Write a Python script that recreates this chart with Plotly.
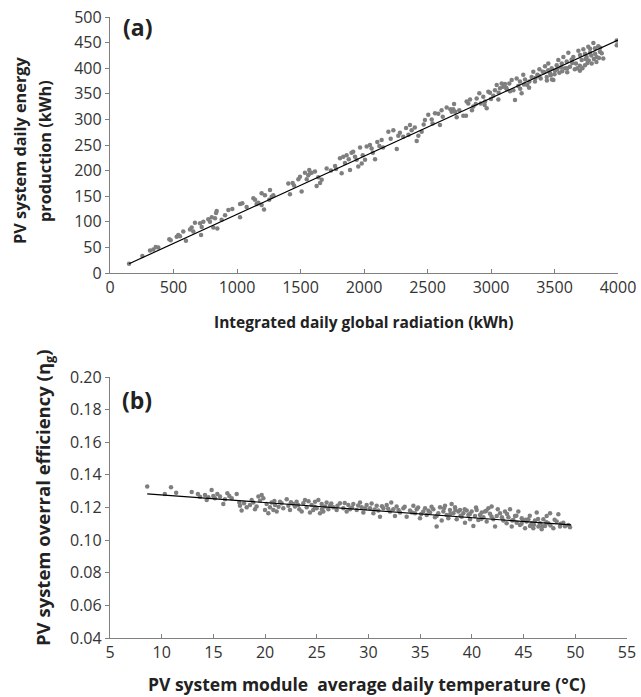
import plotly.graph_objects as go

# ---- Panel (a): integrated daily global radiation (kWh) vs daily energy (kWh)
rad_a = [150,255,315,341,360,380,467,478,525,538,551,577,598,630,643,656,669,709,722,735,717,774,787,801,827,835,840,814,845,879,906,932,963,1024,1024,1042,1076,1129,1142,1155,1168,1194,1213,1194,1220,1260,1273,1254,1286,1404,1417,1438,1449,1483,1496,1509,1535,1549,1569,1575,
         1561,1588,1614,1627,1640,1654,1667,1706,1772,1780,1811,1824,1837,1863,1890,1902,1915,1929,1942,1955,1969,1982,2008,2021,2047,2060,2087,2105,2121,2139,2192,2231,2258,2283,2309,2331,2362,2375,2415,2428,2454,2480,2506,2533,2559,2585,2598,2611,2651,2690,2709,2730,2782,2808,2821,
         1740,1850,1880,1990,2070,2150,2210,2270,2350,2400,2470,2540,2620,2680,2750,
         2703,2717,2803,2835,2861,2887,2908,2919,2939,2953,2966,2979,2992,3018,3031,3045,3058,3071,3084,3097,3110,3124,3144,3163,3176,3189,3202,3215,3228,3241,3254,3268,3286,3302,3320,3333,3346,3365,3381,3391,3407,3425,3439,3451,3465,3478,3491,3504,3517,3530,3538,3557,3570,3583,3596,3609,3622,3635,3648,3669,3688,3701,3714,3727,3740,3753,3766,3780,3793,3806,3819,3832,3845,3858,3872,3884,3990,3990,
         3420,3450,3470,3500,3520,3550,3560,3600,3640,3660,3700,3720,3745,3760,3790,3810,3830,3850,3380,3350,3300,3260,3230,3150,3120,3060,3000,2950,2880,2850,3700,3680,3770,3820,3860,3780,3740,3600,3480,3440]
energy_a = [18,33,44,46,51,50,66,64,71,74,72,81,63,85,89,81,98,97,90,100,74,105,100,109,107,117,121,89,87,104,113,123,125,109,135,136,129,146,143,135,137,133,124,156,152,162,149,143,152,175,154,176,171,183,188,159,196,183,201,195,
            191,196,198,170,187,176,182,204,209,203,224,195,227,230,201,235,237,227,221,208,245,214,221,247,250,243,222,256,248,260,276,279,242,274,266,283,289,279,258,268,276,299,309,300,312,311,289,318,323,315,330,304,307,335,331,
            200,215,222,230,235,245,262,268,270,284,290,292,305,320,318,
            320,315,307,339,325,341,351,331,344,335,322,354,352,346,357,367,339,361,370,364,369,359,370,377,357,338,380,365,374,351,387,378,367,374,383,393,374,387,398,380,393,404,383,409,390,400,377,395,406,416,391,409,422,400,413,430,403,417,422,409,434,426,416,437,406,422,442,430,409,449,439,422,443,432,429,419,454,445,
            392,396,386,388,398,402,394,400,410,398,405,400,418,410,425,418,412,420,385,381,362,368,360,355,362,352,340,328,330,318,395,400,415,428,440,438,428,392,378,376]
trend_a_x = [150, 4000]
trend_a_y = [18, 455]

# ---- Panel (b): module average daily temperature (°C) vs overall efficiency
temp_b = [8.6,10.3,10.9,11.4,12.9,13.5,13.7,
          14.19,14.35,14.51,14.83,14.99,15.15,15.38,15.64,15.96,16.12,16.35,16.54,16.77,17.25,17.51,17.57,17.73,17.96,18.22,18.54,18.70,18.86,19.02,19.18,19.35,19.51,19.67,19.83,19.99,20.15,20.31,20.47,20.63,20.80,20.96,21.12,21.44,21.60,21.76,22.09,22.25,22.41,22.73,22.89,23.05,23.31,23.54,23.70,23.86,24.02,24.34,24.50,24.66,24.83,24.99,25.15,25.31,25.47,25.63,25.79,25.95,26.12,26.28,26.60,26.92,27.24,27.57,27.89,28.05,28.21,28.53,28.86,29.18,29.34,29.50,29.82,30.15,30.47,30.79,30.95,31.11,31.44,31.76,32.08,32.40,32.56,32.72,33.05,33.37,33.69,34.01,34.34,34.50,34.66,34.98,35.30,35.47,35.63,35.95,36.27,36.43,36.59,36.75,36.92,37.08,37.24,37.40,37.56,37.72,37.88,38.04,38.21,38.37,38.53,38.69,38.85,39.01,39.17,39.33,39.50,39.66,39.82,39.98,40.14,40.30,40.46,40.62,40.78,40.95,41.11,41.27,41.43,41.59,41.75,41.91,42.07,42.24,42.40,42.72,43.04,43.20,43.36,43.53,43.69,43.85,44.01,44.17,44.33,44.49,44.65,44.82,44.98,45.14,45.30,45.46,45.62,45.78,45.94,46.10,46.27,46.43,46.59,46.75,46.91,47.07,47.23,47.39,47.56,47.88,48.20,48.36,48.52,48.84,49.33,49.49,
          20.9,21.3,22.5,23.2,24.2,24.8,25.5,26.4,27.0,27.7,28.4,29.0,29.7,30.3,30.6,31.3,31.9,32.2,32.9,33.5,34.2,34.8,35.1,35.8,36.1,36.6,37.3,37.9,38.4,38.9,39.3,39.8,40.4,40.9,41.4,41.9,42.5,42.9,43.4,43.9,44.3,44.8,45.2,45.6,46.0,46.4,46.8,47.2,47.6,48.0,48.6,49.0]
eff_b = [0.1328,0.1283,0.1324,0.1291,0.1295,0.1283,0.1266,
         0.1277,0.1246,0.1263,0.1308,0.1271,0.1257,0.1283,0.1267,0.1222,0.1251,0.1287,0.1271,0.1257,0.1283,0.1230,0.1210,0.1181,0.1226,0.1201,0.1216,0.1246,0.1230,0.1189,0.1206,0.1267,0.1242,0.1277,0.1257,0.1185,0.1222,0.1165,0.1201,0.1230,0.1185,0.1216,0.1175,0.1236,0.1226,0.1195,0.1251,0.1210,0.1185,0.1222,0.1206,0.1236,0.1189,0.1175,0.1226,0.1246,0.1201,0.1169,0.1216,0.1185,0.1236,0.1195,0.1246,0.1165,0.1222,0.1175,0.1206,0.1230,0.1189,0.1210,0.1201,0.1185,0.1226,0.1195,0.1175,0.1216,0.1189,0.1222,0.1185,0.1230,0.1201,0.1169,0.1216,0.1195,0.1165,0.1210,0.1181,0.1144,0.1195,0.1216,0.1175,0.1189,0.1148,0.1206,0.1169,0.1195,0.1144,0.1181,0.1210,0.1165,0.1189,0.1134,0.1175,0.1195,0.1154,0.1169,0.1189,0.1140,0.1083,0.1165,0.1201,0.1120,0.1175,0.1210,0.1154,0.1134,0.1185,0.1222,0.1165,0.1201,0.1128,0.1175,0.1185,0.1144,0.1165,0.1107,0.1181,0.1154,0.1128,0.1175,0.1087,0.1148,0.1185,0.1124,0.1154,0.1169,0.1140,0.1175,0.1114,0.1195,0.1161,0.1206,0.1128,0.1083,0.1148,0.1165,0.1120,0.1175,0.1103,0.1140,0.1189,0.1083,0.1124,0.1148,0.1107,0.1175,0.1093,0.1134,0.1120,0.1073,0.1114,0.1128,0.1087,0.1103,0.1073,0.1120,0.1169,0.1083,0.1103,0.1067,0.1128,0.1087,0.1148,0.1103,0.1165,0.1073,0.1114,0.1159,0.1083,0.1107,0.1093,0.1079,
         0.1240,0.1205,0.1232,0.1215,0.1238,0.1205,0.1190,0.1225,0.1210,0.1228,0.1200,0.1212,0.1195,0.1225,0.1188,0.1208,0.1192,0.1230,0.1185,0.1205,0.1170,0.1200,0.1160,0.1180,0.1205,0.1150,0.1195,0.1160,0.1185,0.1150,0.1190,0.1160,0.1200,0.1130,0.1180,0.1145,0.1190,0.1140,0.1160,0.1120,0.1150,0.1100,0.1125,0.1150,0.1095,0.1130,0.1085,0.1110,0.1090,0.1125,0.1100,0.1085]
trend_b_x = [8.6, 49.6]
trend_b_y = [0.1283, 0.1093]

W, H = 641, 697
PT_COLOR = "#7f7f7f"
AX_COLOR = "#808080"
TICK_FONT = dict(family="Open Sans", size=16, color="#333333")

fig = go.Figure()
fig.add_trace(go.Scatter(x=rad_a, y=energy_a, mode="markers",
                         marker=dict(color=PT_COLOR, size=4.5), xaxis="x", yaxis="y",
                         showlegend=False, hoverinfo="skip"))
fig.add_trace(go.Scatter(x=trend_a_x, y=trend_a_y, mode="lines",
                         line=dict(color="black", width=1.2), xaxis="x", yaxis="y",
                         showlegend=False))
fig.add_trace(go.Scatter(x=temp_b, y=eff_b, mode="markers",
                         marker=dict(color=PT_COLOR, size=4.5), xaxis="x2", yaxis="y2",
                         showlegend=False, hoverinfo="skip"))
fig.add_trace(go.Scatter(x=trend_b_x, y=trend_b_y, mode="lines",
                         line=dict(color="black", width=1.2), xaxis="x2", yaxis="y2",
                         showlegend=False))

def px_x(p):
    return p / W

def px_y(p):
    return 1 - p / H

common = dict(showgrid=False, zeroline=False, showline=True, linecolor=AX_COLOR,
              linewidth=1.3, tickcolor=AX_COLOR, tickwidth=1.3, tickfont=TICK_FONT,
              automargin=False)

fig.update_layout(
    width=W, height=H,
    margin=dict(l=0, r=0, t=0, b=0),
    paper_bgcolor="white", plot_bgcolor="white",
    xaxis=dict(domain=[px_x(110), px_x(618)], range=[0, 4000], dtick=500, tick0=0,
               anchor="y", ticks="inside", ticklen=4, **common),
    yaxis=dict(domain=[px_y(273), px_y(17)], range=[0, 500], dtick=50, tick0=0,
               anchor="x", ticks="outside", ticklen=4, **common),
    xaxis2=dict(domain=[px_x(110), px_x(627)], range=[5, 55], dtick=5, tick0=5,
                anchor="y2", ticks="inside", ticklen=4, **common),
    yaxis2=dict(domain=[px_y(638), px_y(377)], range=[0.04, 0.20], dtick=0.02, tick0=0.04,
                tickformat=".2f", anchor="x2", ticks="outside", ticklen=4, **common),
)

ann = [
    ("<b>(a)</b>", 137, 27, 0, 23),
    ("<b>(b)</b>", 137, 400, 0, 23),
    ("<b>Integrated daily global radiation (kWh)</b>", 363, 322, 0, 15.5),
    ("<b>PV system module&nbsp; average daily temperature (°C)</b>", 367, 684, 0, 17.5),
    ("<b>PV system daily energy</b>", 20, 151, -90, 16.3),
    ("<b>production (kWh)</b>", 45, 151, -90, 16.3),
    ("<b>PV system overral efficiency (η<sub>g</sub>)</b>", 44, 498, -90, 18.5),
]
for text, x, y, ang, size in ann:
    fig.add_annotation(xref="paper", yref="paper", showarrow=False,
                       xanchor="center", yanchor="middle", text=text,
                       x=px_x(x), y=px_y(y), textangle=ang,
                       font=dict(family="Open Sans", size=size, color="#222222"))

fig.write_html("out.html")
